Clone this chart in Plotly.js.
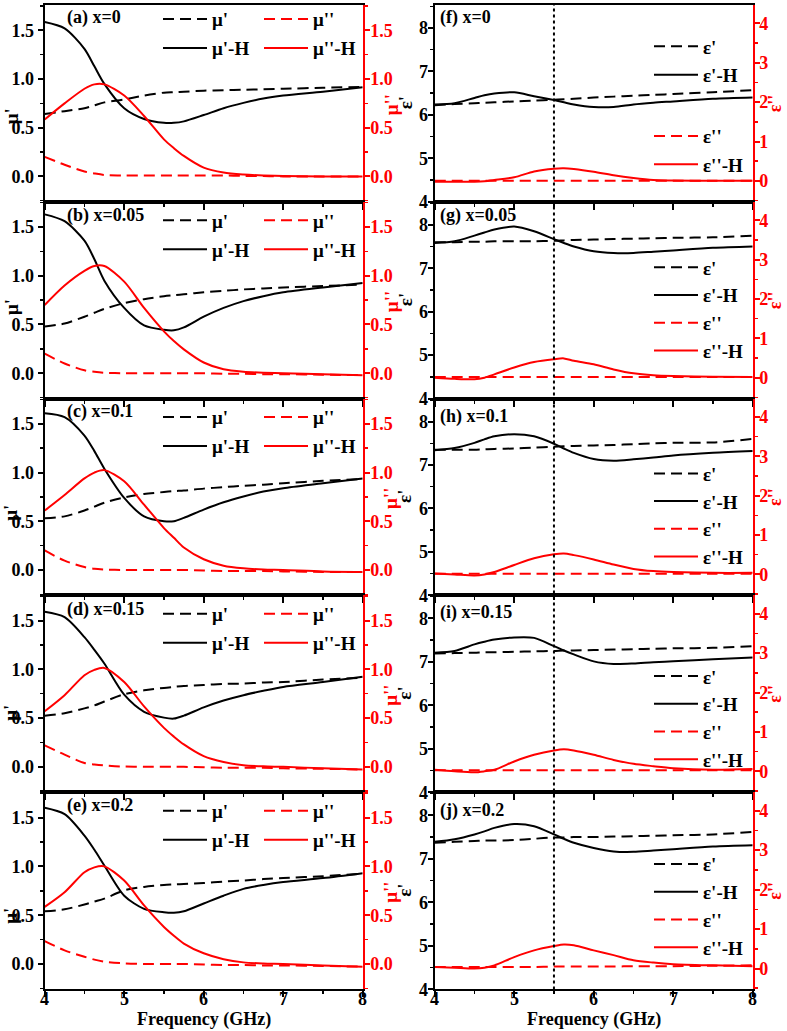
<!DOCTYPE html>
<html><head><meta charset="utf-8">
<script src="https://cdn.plot.ly/plotly-3.0.1.min.js"></script>
<style>body{margin:0;background:#fff}</style>
</head><body>
<div id="chart" style="width:787px;height:1031px"></div>
<script>
// ---------------- DATA ----------------
const freq = [4.0, 4.25, 4.5, 4.625, 4.75, 5.0, 5.25, 5.5, 5.625, 5.75, 6.0, 6.25, 6.5, 6.75, 7.0, 7.5, 8.0];

const panelLabels = ['(a) x=0', '(b) x=0.05', '(c) x=0.1', '(d) x=0.15', '(e) x=0.2',
                     '(f) x=0', '(g) x=0.05', '(h) x=0.1', '(i) x=0.15', '(j) x=0.2'];
const muNames  = ["μ'", "μ'-H", "μ''", "μ''-H"];
const epsNames = ["ε'", "ε'-H", "ε''", "ε''-H"];
const freqTicks = [4, 5, 6, 7, 8];
const muTicks  = [0, 0.5, 1.0, 1.5];
const epsReTicks = [4, 5, 6, 7, 8];
const epsImTicks = [0, 1, 2, 3, 4];

// (a) x=0
const muRe_a   = [0.64, 0.67, 0.70, 0.73, 0.76, 0.79, 0.83, 0.86, 0.865, 0.87, 0.88, 0.885, 0.89, 0.895, 0.90, 0.91, 0.92];
const muReH_a  = [1.585, 1.52, 1.31, 1.13, 0.95, 0.70, 0.59, 0.55, 0.55, 0.565, 0.63, 0.70, 0.755, 0.80, 0.83, 0.87, 0.915];
const muIm_a   = [0.20, 0.12, 0.05, 0.03, 0.015, 0.01, 0.01, 0.01, 0.01, 0.01, 0.01, 0.01, 0.005, 0.005, 0.0, 0.0, 0.0];
const muImH_a  = [0.585, 0.75, 0.90, 0.945, 0.945, 0.83, 0.62, 0.38, 0.29, 0.21, 0.09, 0.04, 0.02, 0.01, 0.005, 0.0, 0.0];
// (b) x=0.05
const muRe_b   = [0.48, 0.51, 0.58, 0.62, 0.66, 0.72, 0.76, 0.79, 0.80, 0.81, 0.83, 0.845, 0.86, 0.87, 0.88, 0.895, 0.91];
const muReH_b  = [1.63, 1.56, 1.36, 1.17, 0.95, 0.67, 0.49, 0.445, 0.44, 0.47, 0.58, 0.67, 0.74, 0.79, 0.83, 0.88, 0.925];
const muIm_b   = [0.20, 0.10, 0.03, 0.015, 0.005, 0.0, 0.0, 0.0, 0.0, 0.0, 0.0, -0.005, -0.005, -0.01, -0.01, -0.015, -0.02];
const muImH_b  = [0.70, 0.90, 1.05, 1.10, 1.10, 0.94, 0.67, 0.43, 0.33, 0.245, 0.11, 0.04, 0.015, 0.005, 0.0, -0.01, -0.02];
// (c) x=0.1
const muRe_c   = [0.53, 0.55, 0.61, 0.65, 0.69, 0.745, 0.78, 0.80, 0.81, 0.815, 0.835, 0.85, 0.865, 0.875, 0.89, 0.915, 0.935];
const muReH_c  = [1.61, 1.57, 1.38, 1.22, 1.04, 0.74, 0.55, 0.50, 0.50, 0.535, 0.62, 0.695, 0.755, 0.805, 0.84, 0.89, 0.94];
const muIm_c   = [0.20, 0.095, 0.03, 0.012, 0.005, 0.0, 0.0, 0.0, 0.0, 0.0, -0.005, -0.01, -0.01, -0.01, -0.015, -0.02, -0.02];
const muImH_c  = [0.61, 0.77, 0.94, 1.00, 1.025, 0.91, 0.67, 0.43, 0.33, 0.23, 0.11, 0.044, 0.017, 0.005, 0.0, -0.015, -0.02];
// (d) x=0.15
const muRe_d   = [0.525, 0.55, 0.60, 0.63, 0.67, 0.745, 0.785, 0.81, 0.82, 0.83, 0.84, 0.85, 0.855, 0.865, 0.87, 0.895, 0.915];
const muReH_d  = [1.59, 1.535, 1.33, 1.20, 1.06, 0.74, 0.565, 0.505, 0.495, 0.525, 0.61, 0.68, 0.735, 0.78, 0.82, 0.87, 0.925];
const muIm_d   = [0.22, 0.125, 0.04, 0.025, 0.014, 0.003, 0.0, 0.0, 0.0, 0.0, -0.005, -0.01, -0.01, -0.01, -0.015, -0.02, -0.027];
const muImH_d  = [0.57, 0.735, 0.94, 0.995, 1.015, 0.87, 0.62, 0.40, 0.31, 0.23, 0.11, 0.05, 0.017, 0.005, 0.0, -0.015, -0.027];
// (e) x=0.2
const muRe_e   = [0.54, 0.56, 0.61, 0.64, 0.67, 0.755, 0.79, 0.81, 0.815, 0.82, 0.83, 0.845, 0.855, 0.87, 0.88, 0.90, 0.925];
const muReH_e  = [1.60, 1.535, 1.315, 1.17, 1.01, 0.70, 0.565, 0.53, 0.525, 0.54, 0.62, 0.70, 0.77, 0.81, 0.84, 0.88, 0.93];
const muIm_e   = [0.235, 0.14, 0.075, 0.045, 0.024, 0.007, 0.0, 0.0, 0.0, 0.0, -0.005, -0.01, -0.01, -0.015, -0.015, -0.02, -0.027];
const muImH_e  = [0.585, 0.735, 0.94, 0.99, 1.0, 0.855, 0.60, 0.38, 0.29, 0.21, 0.11, 0.05, 0.017, 0.005, 0.0, -0.015, -0.027];

// (f) x=0
const epsRe_f  = [6.22, 6.25, 6.27, 6.28, 6.29, 6.31, 6.33, 6.35, 6.36, 6.37, 6.40, 6.42, 6.44, 6.46, 6.48, 6.52, 6.57];
const epsReH_f = [6.24, 6.27, 6.39, 6.45, 6.49, 6.52, 6.43, 6.34, 6.29, 6.24, 6.18, 6.18, 6.24, 6.28, 6.31, 6.37, 6.40];
const epsIm_f  = [0.0, 0.0, 0.0, 0.0, 0.0, 0.0, 0.0, 0.0, 0.0, 0.0, 0.0, 0.0, 0.0, 0.0, 0.0, 0.0, 0.0];
const epsImH_f = [-0.02, -0.02, -0.02, -0.01, 0.02, 0.09, 0.24, 0.31, 0.32, 0.30, 0.23, 0.14, 0.07, 0.02, 0.01, 0.0, 0.0];
// (g) x=0.05
const epsRe_g  = [7.60, 7.60, 7.61, 7.61, 7.62, 7.62, 7.62, 7.63, 7.64, 7.65, 7.66, 7.67, 7.68, 7.69, 7.70, 7.71, 7.75];
const epsReH_g = [7.58, 7.62, 7.75, 7.82, 7.89, 7.96, 7.85, 7.67, 7.58, 7.50, 7.39, 7.35, 7.35, 7.38, 7.41, 7.47, 7.50];
const epsIm_g  = [0.02, 0.02, 0.02, 0.02, 0.02, 0.02, 0.02, 0.02, 0.02, 0.02, 0.02, 0.02, 0.02, 0.02, 0.02, 0.02, 0.02];
const epsImH_g = [0.0, -0.03, -0.04, 0.0, 0.085, 0.26, 0.40, 0.47, 0.49, 0.43, 0.34, 0.21, 0.11, 0.06, 0.04, 0.025, 0.02];
// (h) x=0.1
const epsRe_h  = [7.35, 7.35, 7.35, 7.36, 7.37, 7.38, 7.40, 7.42, 7.43, 7.44, 7.45, 7.46, 7.48, 7.50, 7.51, 7.52, 7.60];
const epsReH_h = [7.34, 7.39, 7.51, 7.59, 7.66, 7.71, 7.66, 7.49, 7.38, 7.28, 7.14, 7.10, 7.13, 7.17, 7.22, 7.28, 7.32];
const epsIm_h  = [0.02, 0.02, 0.02, 0.02, 0.02, 0.02, 0.02, 0.02, 0.02, 0.02, 0.02, 0.02, 0.02, 0.02, 0.02, 0.02, 0.02];
const epsImH_h = [0.025, 0.0, -0.025, 0.0, 0.06, 0.24, 0.41, 0.51, 0.53, 0.49, 0.38, 0.25, 0.14, 0.085, 0.06, 0.04, 0.04];
// (i) x=0.15
const epsRe_i  = [7.19, 7.20, 7.21, 7.22, 7.22, 7.23, 7.24, 7.25, 7.26, 7.26, 7.27, 7.28, 7.29, 7.30, 7.31, 7.32, 7.36];
const epsReH_i = [7.21, 7.25, 7.40, 7.46, 7.51, 7.56, 7.55, 7.36, 7.26, 7.17, 7.01, 6.95, 6.96, 6.99, 7.01, 7.06, 7.10];
const epsIm_i  = [0.03, 0.03, 0.03, 0.03, 0.03, 0.03, 0.03, 0.03, 0.03, 0.03, 0.03, 0.03, 0.03, 0.03, 0.03, 0.03, 0.03];
const epsImH_i = [0.04, 0.0, -0.025, 0.0, 0.04, 0.25, 0.42, 0.53, 0.56, 0.53, 0.42, 0.29, 0.19, 0.13, 0.08, 0.04, 0.06];
// (j) x=0.2
const epsRe_j  = [7.37, 7.39, 7.41, 7.42, 7.42, 7.43, 7.46, 7.49, 7.49, 7.50, 7.50, 7.51, 7.52, 7.53, 7.54, 7.56, 7.62];
const epsReH_j = [7.39, 7.45, 7.56, 7.63, 7.71, 7.80, 7.75, 7.56, 7.46, 7.37, 7.25, 7.17, 7.16, 7.19, 7.22, 7.28, 7.31];
const epsIm_j  = [0.04, 0.04, 0.04, 0.04, 0.04, 0.04, 0.04, 0.05, 0.05, 0.05, 0.05, 0.05, 0.06, 0.06, 0.06, 0.07, 0.08];
const epsImH_j = [0.04, 0.02, 0.0, 0.02, 0.08, 0.29, 0.46, 0.57, 0.61, 0.59, 0.46, 0.34, 0.21, 0.15, 0.11, 0.08, 0.06];

const markerFreq = [5.5]; // dotted reference line position (GHz)

// ---------------- BUILD ----------------
const panels = [
  [muRe_a, muReH_a, muIm_a, muImH_a], [muRe_b, muReH_b, muIm_b, muImH_b],
  [muRe_c, muReH_c, muIm_c, muImH_c], [muRe_d, muReH_d, muIm_d, muImH_d],
  [muRe_e, muReH_e, muIm_e, muImH_e],
  [epsRe_f, epsReH_f, epsIm_f, epsImH_f], [epsRe_g, epsReH_g, epsIm_g, epsImH_g],
  [epsRe_h, epsReH_h, epsIm_h, epsImH_h], [epsRe_i, epsReH_i, epsIm_i, epsImH_i],
  [epsRe_j, epsReH_j, epsIm_j, epsImH_j]
];

const W = 787, H = 1031;
const FONT = "'Liberation Serif', 'Times New Roman', serif";
const RED = '#ff0000';
const DASH = '11px,6px';
const TICK = 18, LEG = 19, LAB = 18, TTL = 19;
const tops = [2, 199.3, 396.7, 594, 791.5];
const bots = [199.3, 396.7, 594, 791.5, 989.3];
const colX = [[44.7, 362.7], [434.7, 752.7]];
const px = p => p / W;
const py = p => 1 - p / H;
const fnt = (size, color) => ({family: FONT, size: size, color: color || '#000', weight: 'bold'});

const data = [];
const layout = {
  width: W, height: H,
  margin: {l: 0, r: 0, t: 0, b: 0},
  paper_bgcolor: '#fff', plot_bgcolor: 'rgba(0,0,0,0)',
  font: fnt(TICK),
  showlegend: true,
  annotations: [], shapes: []
};

function lgId(n) { return n === 1 ? 'legend' : 'legend' + n; }
function mkLegend(xPx, topPx, gap) {
  return {x: px(xPx), y: py(topPx), xanchor: 'left', yanchor: 'top', xref: 'paper', yref: 'paper',
    bgcolor: 'rgba(0,0,0,0)', borderwidth: 0, itemwidth: 44, tracegroupgap: gap,
    orientation: 'v', font: fnt(LEG), itemclick: false, itemdoubleclick: false};
}

for (let i = 0; i < 10; i++) {
  const col = i < 5 ? 0 : 1;
  const r = i % 5;
  const xn = i + 1, yl = 2 * i + 1, yr = 2 * i + 2;
  const xk = xn === 1 ? 'xaxis' : 'xaxis' + xn;
  const ylk = yl === 1 ? 'yaxis' : 'yaxis' + yl;
  const yrk = 'yaxis' + yr;
  const names = col === 0 ? muNames : epsNames;
  const s = panels[i];
  let lgs;
  if (col === 0) lgs = [2 * r + 1, 2 * r + 1, 2 * r + 2, 2 * r + 2];
  else if (r === 0) lgs = [11, 11, 12, 12];
  else lgs = [12 + r, 12 + r, 12 + r, 12 + r];
  const styles = [
    {color: '#000', dash: DASH, axis: 'y' + yl},
    {color: '#000', dash: 'solid', axis: 'y' + yl},
    {color: RED, dash: DASH, axis: 'y' + yr},
    {color: RED, dash: 'solid', axis: 'y' + yr}
  ];
  for (let k = 0; k < 4; k++) {
    data.push({
      x: freq, y: s[k], xaxis: 'x' + xn, yaxis: styles[k].axis, type: 'scatter', mode: 'lines',
      name: names[k], legend: lgId(lgs[k]), legendgroup: 'p' + i + 's' + k,
      line: {color: styles[k].color, width: 2, dash: styles[k].dash, shape: 'spline', smoothing: 0.8},
      hoverinfo: 'skip'
    });
  }
  const dom = [py(bots[r]), py(tops[r])];
  const bottom = r === 4;
  layout[xk] = {
    domain: [px(colX[col][0]), px(colX[col][1])], range: [4, 8], anchor: 'y' + yl,
    showline: true, linecolor: '#000', linewidth: 2, mirror: true,
    ticks: 'outside', ticklen: 6, tickwidth: 2, tickcolor: '#000', tickvals: freqTicks,
    minor: {dtick: 0.5, ticklen: 3, tickwidth: 1.5, ticks: 'outside', tickcolor: '#000'},
    showticklabels: false, showgrid: false, zeroline: false
  };
  if (bottom) {
    // bottom tick labels placed on the axis scale, close to the axis line
    freqTicks.forEach(v => layout.annotations.push({
      text: String(v), xref: 'x' + xn, yref: 'paper', x: v, y: py(998.5),
      xanchor: 'center', yanchor: 'middle', showarrow: false, font: fnt(TICK)
    }));
  }
  if (col === 0) {
    layout[ylk] = {
      domain: dom, range: [-0.26, 1.76], anchor: 'x' + xn, side: 'left',
      tickvals: muTicks, tickformat: '.1f',
      showline: true, linecolor: '#000', linewidth: 2,
      ticks: 'outside', ticklen: 5, tickwidth: 2, tickcolor: '#000',
      minor: {dtick: 0.25, tick0: 0, ticklen: 3, tickwidth: 1.5, ticks: 'outside', tickcolor: '#000'},
      showgrid: false, zeroline: false, tickfont: fnt(TICK)
    };
    layout[yrk] = {
      range: [-0.26, 1.76], anchor: 'x' + xn, overlaying: 'y' + yl, side: 'right',
      tickvals: muTicks, tickformat: '.1f',
      showline: true, linecolor: RED, linewidth: 2,
      ticks: 'outside', ticklen: 5, tickwidth: 2, tickcolor: RED, ticklabelstandoff: -3,
      minor: {dtick: 0.25, tick0: 0, ticklen: 3, tickwidth: 1.5, ticks: 'outside', tickcolor: RED},
      showgrid: false, zeroline: false, tickfont: fnt(TICK, RED)
    };
  } else {
    layout[ylk] = {
      domain: dom, range: [4, 8.53], anchor: 'x' + xn, side: 'left',
      tickvals: epsReTicks,
      showline: true, linecolor: '#000', linewidth: 2,
      ticks: 'outside', ticklen: 5, tickwidth: 2, tickcolor: '#000', ticklabelstandoff: -4,
      minor: {dtick: 0.5, tick0: 4, ticklen: 3, tickwidth: 1.5, ticks: 'outside', tickcolor: '#000'},
      showgrid: false, zeroline: false, tickfont: fnt(TICK)
    };
    layout[yrk] = {
      range: [-0.53, 4.47], anchor: 'x' + xn, overlaying: 'y' + yl, side: 'right',
      tickvals: epsImTicks,
      showline: true, linecolor: RED, linewidth: 2,
      ticks: 'outside', ticklen: 5, tickwidth: 2, tickcolor: RED, ticklabelstandoff: -4,
      minor: {dtick: 0.5, tick0: 0, ticklen: 3, tickwidth: 1.5, ticks: 'outside', tickcolor: RED},
      showgrid: false, zeroline: false, tickfont: fnt(TICK, RED)
    };
  }
  const labOff = col === 0 ? [13, 14, 13.3, 14, 13.5] : [13, 14, 18.3, 17, 18.5];
  layout.annotations.push({
    text: panelLabels[i], xref: 'paper', yref: 'paper', x: px(col === 0 ? 65 : 438),
    y: py(tops[r] + labOff[r]), xanchor: 'left', yanchor: 'middle', showarrow: false, font: fnt(LAB)
  });
  const cy = (tops[r] + bots[r]) / 2;
  if (col === 0) {
    const off = [13, 7, 16, 19, 25][r];
    layout.annotations.push({text: "μ'", xref: 'paper', yref: 'paper', x: px(11), y: py(cy + off),
      xanchor: 'center', yanchor: 'middle', textangle: -90, showarrow: false, font: fnt(TTL)});
    layout.annotations.push({text: "μ''", xref: 'paper', yref: 'paper', x: px(391), y: py(cy + 2),
      xanchor: 'center', yanchor: 'middle', textangle: -90, showarrow: false, font: fnt(TTL, RED)});
  } else {
    layout.annotations.push({text: "ε'", xref: 'paper', yref: 'paper', x: px(405), y: py(cy),
      xanchor: 'center', yanchor: 'middle', textangle: -90, showarrow: false, font: fnt(TTL)});
    layout.annotations.push({text: "ε''", xref: 'paper', yref: 'paper', x: 1, y: py(cy),
      xanchor: 'right', yanchor: 'middle', textangle: -90, showarrow: false, font: fnt(18, RED)});
  }
  if (bottom) {
    layout.annotations.push({text: 'Frequency (GHz)', xref: 'paper', yref: 'paper',
      x: px((colX[col][0] + colX[col][1]) / 2), y: py(1019.5), xanchor: 'center', yanchor: 'middle',
      showarrow: false, font: fnt(18)});
  }
}

// legends (item height = LEG*1.3 + 3)
const ITEM = LEG * 1.3 + 3;
const ROW = 5 + ITEM / 2;
const leftRow1 = [14, 18.5, 18.5, 18.5, 18.5];
for (let r = 0; r < 5; r++) {
  layout[lgId(2 * r + 1)] = mkLegend(158, tops[r] + leftRow1[r] - ROW, Math.max(0, 29 - ITEM));
  layout[lgId(2 * r + 2)] = mkLegend(259, tops[r] + leftRow1[r] - ROW, Math.max(0, 29 - ITEM));
}
layout[lgId(11)] = mkLegend(649, tops[0] + 41.3 - ROW, Math.max(0, 28.4 - ITEM));
layout[lgId(12)] = mkLegend(649, tops[0] + 131.3 - ROW, Math.max(0, 28.4 - ITEM));
const rightRow1 = [0, 65.7, 75, 81, 72];
for (let r = 1; r < 5; r++) {
  layout[lgId(12 + r)] = mkLegend(649, tops[r] + rightRow1[r] - ROW, 0);
}

layout.shapes.push({type: 'line', xref: 'x6', yref: 'paper', x0: markerFreq[0], x1: markerFreq[0],
  y0: py(bots[4]), y1: py(tops[0]), line: {color: '#000', width: 2, dash: 'dot'}, layer: 'above'});

Plotly.newPlot('chart', data, layout, {staticPlot: true, displayModeBar: false});
</script>
</body></html>
